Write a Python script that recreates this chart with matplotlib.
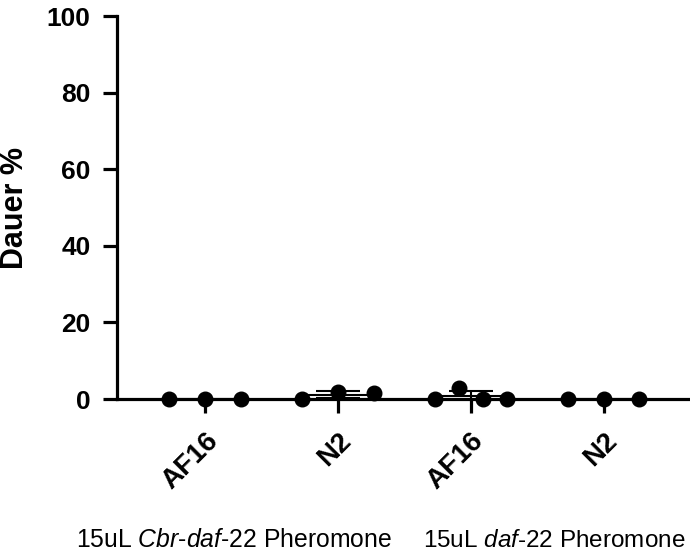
import numpy as np
import matplotlib
matplotlib.use('Agg')
import matplotlib.pyplot as plt
import matplotlib.transforms as mtransforms

plt.rcParams['font.family'] = ['Liberation Sans', 'DejaVu Sans']
plt.rcParams['mathtext.fontset'] = 'custom'
plt.rcParams['mathtext.rm'] = 'Liberation Sans'
plt.rcParams['mathtext.it'] = 'Liberation Sans:italic'

# data
strains = ['AF16', 'N2', 'AF16', 'N2']
treatments = ['15uL $\\it{Cbr}$-$\\it{daf}$-$\\it{22}$ Pheromone',
              '15uL $\\it{daf}$-$\\it{22}$ Pheromone']
yticks = [0, 20, 40, 60, 80, 100]
af16_cbr = [0.0, 0.0, 0.0]
n2_cbr = [0.0, 1.9, 1.6]
af16_daf = [0.0, 2.8, 0.0, 0.0]
n2_daf = [0.0, 0.0, 0.0]
groups = [af16_cbr, n2_cbr, af16_daf, n2_daf]

fig = plt.figure(figsize=(6.9, 5.55), dpi=100)
ax = fig.add_axes([0.1696, 0.281, 0.8304, 0.690])

for i, vals in enumerate(groups):
    vals = np.array(vals)
    xs = i + np.linspace(-0.27, 0.27, len(vals))
    mean = vals.mean()
    sd = vals.std(ddof=1)
    ax.plot([i - 0.27, i + 0.27], [mean, mean], color='black', lw=1.5, zorder=2, clip_on=False)
    if sd > 0:
        ax.errorbar(i, mean, yerr=sd, fmt='none', ecolor='black', elinewidth=1.5,
                    capsize=16, capthick=1.5, zorder=2)
    ax.scatter(xs, vals, s=110, color='black', zorder=3, clip_on=False)

ax.set_xlim(-0.66, 3.65)
ax.set_ylim(0, 100)
ax.set_yticks(yticks, labels=[str(t) for t in yticks], fontsize=19, fontweight='bold')
ax.set_xticks(range(len(strains)), labels=strains, rotation=45, ha='right', va='top',
              rotation_mode='anchor', fontsize=20, fontweight='bold')
shift = mtransforms.ScaledTranslation(-2 / 100, 0, fig.dpi_scale_trans)
for lab in ax.get_xticklabels():
    lab.set_transform(lab.get_transform() + shift)

for side in ['top', 'right']:
    ax.spines[side].set_visible(False)
for side in ['left', 'bottom']:
    ax.spines[side].set_linewidth(2.3)
ax.tick_params(axis='both', width=2.3, length=10)
ax.tick_params(axis='y', pad=9)
ax.tick_params(axis='x', pad=11)

ax.set_ylabel('Dauer %', fontsize=22, fontweight='bold', labelpad=12)

fig.text(76 / 690, 1 - 547 / 555, treatments[0], fontsize=17.8, ha='left', va='baseline')
fig.text(423 / 690, 1 - 547 / 555, treatments[1], fontsize=17.5, ha='left', va='baseline')

fig.savefig('out.png', dpi=100)
